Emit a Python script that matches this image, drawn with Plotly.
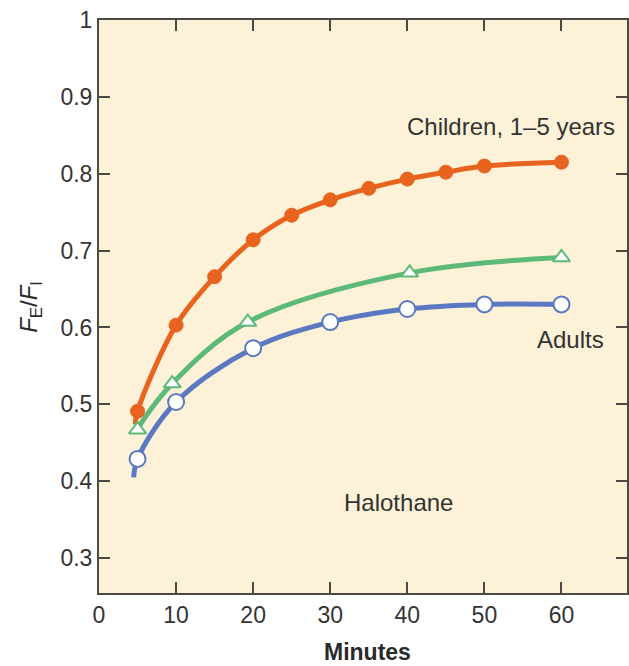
import plotly.graph_objects as go

# data
child_x = [5, 10, 15, 20, 25, 30, 35, 40, 45, 50, 60]
child_y = [0.491, 0.603, 0.666, 0.714, 0.746, 0.766, 0.781, 0.793, 0.802, 0.810, 0.815]

green_x = [5, 9.5, 19.3, 40.3, 60]
green_y = [0.467, 0.527, 0.607, 0.671, 0.691]

adult_x = [5, 10, 20, 30, 40, 50, 60]
adult_y = [0.429, 0.503, 0.573, 0.607, 0.624, 0.630, 0.630]

# where the fitted curves begin (a bit before the first marker)
child_start = (4.7, 0.474)
green_start = (4.9, 0.462)
adult_start = (4.5, 0.405)

x_ticks = [0, 10, 20, 30, 40, 50, 60]
y_ticks = [0.3, 0.4, 0.5, 0.6, 0.7, 0.8, 0.9, 1.0]
y_labels = ['0.3', '0.4', '0.5', '0.6', '0.7', '0.8', '0.9', '1']

orange = '#E8641E'
green = '#5DB97A'
blue = '#5B79C2'
axis_col = '#4a4a42'
txt_col = '#333333'
font = 'Liberation Sans, Arial, sans-serif'

data = []
curves = [
    (child_start, child_x, child_y, orange),
    (green_start, green_x, green_y, green),
    (adult_start, adult_x, adult_y, blue),
]
for start, xs, ys, col in curves:
    data.append(go.Scatter(
        x=[start[0]] + xs, y=[start[1]] + ys,
        mode='lines', line=dict(color=col, width=5, shape='spline', smoothing=1.0),
        hoverinfo='skip'
    ))

data.append(go.Scatter(x=child_x, y=child_y, mode='markers',
                       marker=dict(symbol='circle', size=14, color=orange,
                                   line=dict(color=orange, width=1))))
data.append(go.Scatter(x=green_x, y=green_y, mode='markers',
                       marker=dict(symbol='triangle-up', size=15, color='white',
                                   line=dict(color=green, width=2))))
data.append(go.Scatter(x=adult_x, y=adult_y, mode='markers',
                       marker=dict(symbol='circle', size=16, color='white',
                                   line=dict(color=blue, width=2))))

layout = go.Layout(
    width=629, height=666,
    margin=dict(l=99, r=0, t=20, b=73),
    paper_bgcolor='white',
    plot_bgcolor='#FDF1D8',
    showlegend=False,
    font=dict(family=font, size=23, color=txt_col),
    xaxis=dict(
        range=[0, 68.5], tickvals=x_ticks, ticks='inside', ticklen=11,
        tickwidth=2, tickcolor=axis_col, showline=True, linecolor=axis_col,
        linewidth=2, mirror='ticks', showgrid=False, zeroline=False,
        tickfont=dict(size=23)
    ),
    yaxis=dict(
        range=[0.2545, 1.0], tickvals=y_ticks, ticktext=y_labels,
        ticks='inside', ticklen=11, tickwidth=2, tickcolor=axis_col,
        showline=True, linecolor=axis_col, linewidth=2, mirror='ticks',
        showgrid=False, zeroline=False, tickfont=dict(size=23)
    ),
    annotations=[
        dict(x=53.4, y=0.861, text='Children, 1–5 years', showarrow=False,
             font=dict(size=24)),
        dict(x=61.2, y=0.584, text='Adults', showarrow=False,
             font=dict(size=24)),
        dict(x=38.9, y=0.372, text='Halothane', showarrow=False,
             font=dict(size=24)),
        dict(x=0.509, y=-0.103, xref='paper', yref='paper', text='<b>Minutes</b>',
             xanchor='center', yanchor='middle',
             showarrow=False, font=dict(size=23, color='#2a2a2a')),
        dict(x=-0.130, y=0.5, xref='paper', yref='paper', textangle=-90,
             xanchor='center', yanchor='middle',
             text='<i>F</i><sub>E</sub>/<i>F</i><sub>I</sub>',
             showarrow=False, font=dict(size=24, color='#2a2a2a')),
    ]
)

fig = go.Figure(data=data, layout=layout)
fig.write_html('out.html', config={'displayModeBar': False},
               post_script="document.body.style.margin='0';")
